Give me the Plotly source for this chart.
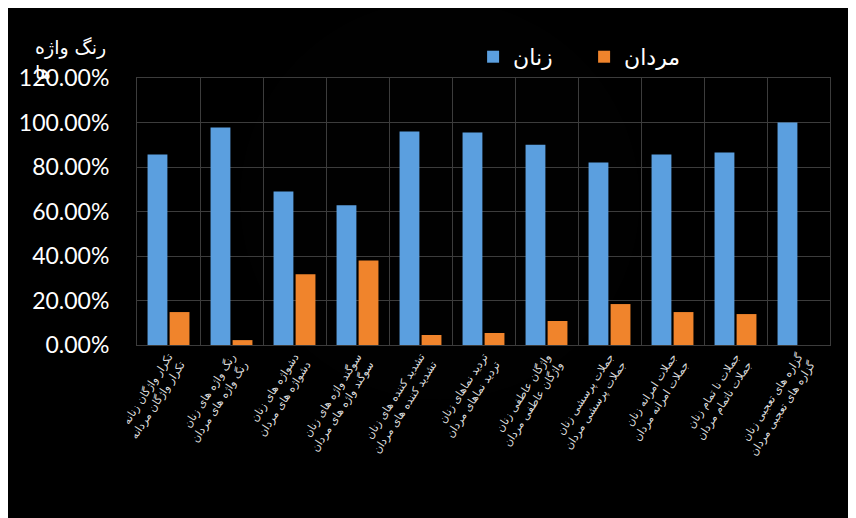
import plotly.graph_objects as go

# ---- data ----
categories = [
    "تکرار واژگان زنانه<br>تکرار واژگان مردانه",
    "رنگ واژه های زنان<br>رنگ واژه های مردان",
    "دشواژه های زنان<br>دشواژه های مردان",
    "سوگند واژه های زنان<br>سوگند واژه های مردان",
    "تشدید کننده های زنان<br>تشدید کننده های مردان",
    "تردید نماهای زنان<br>تردید نماهای مردان",
    "واژگان عاطفی زنان<br>واژگان عاطفی مردان",
    "جملات پرسشی زنان<br>جملات پرسشی مردان",
    "جملات امرانه زنان<br>جملات امرانه مردان",
    "جملات نا تمام زنان<br>جملات ناتمام مردان",
    "گزاره های تعجبی زنان<br>گزاره های تعجبی مردان",
]
women = [0.856, 0.978, 0.690, 0.628, 0.960, 0.955, 0.900, 0.820, 0.856, 0.865, 1.000]
men = [0.148, 0.022, 0.318, 0.380, 0.045, 0.054, 0.108, 0.184, 0.148, 0.139, 0.0]
series_names = ["زنان", "مردان"]
title_text = "رنگ واژه<br>ها"
y_tickvals = [0, 0.2, 0.4, 0.6, 0.8, 1.0, 1.2]

BLUE = "#5b9fdf"
ORANGE = "#f0842c"
GRID = "#3c3c3c"

fig = go.Figure()
fig.add_trace(go.Bar(x=categories, y=women, name=series_names[0],
                     marker=dict(color=BLUE, line=dict(width=0))))
fig.add_trace(go.Bar(x=categories, y=men, name=series_names[1],
                     marker=dict(color=ORANGE, line=dict(width=0))))

# subtle radial glow in the middle of the plot
shapes = []
cx, cy = 0.437, 0.543
for r in range(200, 0, -8):
    dx, dy = r / 693, r / 267
    shapes.append(dict(type="circle", xref="paper", yref="paper",
                       x0=cx - dx, x1=cx + dx, y0=cy - dy, y1=cy + dy,
                       fillcolor="rgba(255,255,255,0.005)", line=dict(width=0),
                       layer="below"))

fig.update_layout(
    width=848, height=510,
    margin=dict(l=129, r=26, t=70, b=173, autoexpand=False),
    paper_bgcolor="#000000",
    plot_bgcolor="rgba(0,0,0,0)",
    barmode="group", bargap=0.3, bargroupgap=0.1,
    shapes=shapes,
    showlegend=True,
    legend=dict(orientation="h", x=0.485, xanchor="left", y=1.079, yanchor="middle",
                font=dict(family="Lato, DejaVu Sans", size=22, color="#ffffff"),
                bgcolor="rgba(0,0,0,0)", traceorder="normal", entrywidth=66),
    annotations=[dict(text=title_text, xref="paper", yref="paper",
                      x=(25 - 129) / 693, y=1 + (70 - 26) / 267,
                      xanchor="left", yanchor="top", align="left", showarrow=False,
                      font=dict(family="DejaVu Sans", size=19, color="#ffffff"))],
    font=dict(family="DejaVu Sans", color="#ffffff"),
)
fig.update_xaxes(
    type="category", tickson="boundaries", showgrid=True, gridcolor=GRID, gridwidth=1,
    showline=True, linecolor=GRID, mirror=True, ticks="",
    tickangle=-57, tickfont=dict(family="DejaVu Sans", size=11, color="#dddddd"),
)
fig.update_yaxes(
    range=[0, 1.2], tickvals=y_tickvals, tickformat=".2%",
    showgrid=True, gridcolor=GRID, gridwidth=1, zeroline=False,
    showline=True, linecolor=GRID, mirror=True,
    tickfont=dict(family="Lato", size=23, color="#ffffff"), ticklabelstandoff=22,
)

fig.write_html("out.html")
